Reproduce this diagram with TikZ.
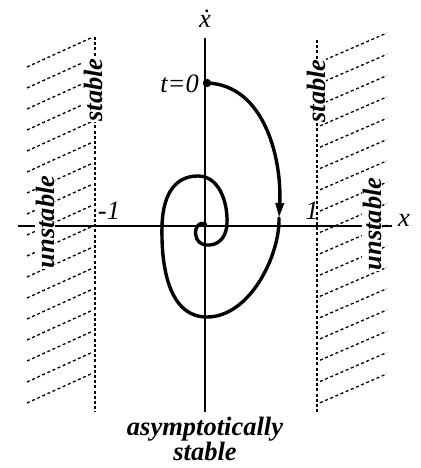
\documentclass[tikz,border=0pt]{standalone}
\usepackage{fontspec}
\setmainfont{Liberation Serif}
\usetikzlibrary{arrows.meta}
\begin{document}
\begin{tikzpicture}[x=1pt,y=-1pt,
  axis/.style={line width=1.6pt},
  bound/.style={line width=1.3pt,dash pattern=on 3pt off 2.2pt},
  hatch/.style={line width=1.3pt,dash pattern=on 3pt off 2.6pt},
  traj/.style={line width=3.4pt},
  lab/.style={font=\fontsize{26.5}{28}\selectfont\itshape,inner sep=1pt},
  blab/.style={font=\fontsize{26.5}{28}\selectfont\bfseries\itshape,inner sep=1pt},
  rlab/.style={blab,rotate=90,fill=white,inner sep=0.5pt}]
\useasboundingbox (0,0) rectangle (420,468);
% hatching
\foreach \i in {0,...,16}{
  \draw[hatch] (27,67+21*\i) -- (93,37+21*\i);
  \draw[hatch] (320,62+21.3*\i) -- (387,33+21.3*\i);
}
% stability boundaries
\coordinate (lt) at (95,37); \coordinate (lb) at (95,412);
\coordinate (rt) at (317,40); \coordinate (rb) at (317,412);
\draw[bound] (lt) -- (lb);
\draw[bound] (rt) -- (rb);
% axes
\coordinate (xl) at (18,226); \coordinate (xr) at (392,226);
\coordinate (yt) at (205,38); \coordinate (yb) at (205,412);
\draw[axis] (xl) -- (xr);
\draw[axis] (yt) -- (yb);
% labels
\node[lab] (xlab) at (404,220) {x};
\node[lab] (ylab) at (205,19) {\.{x}};
\node[lab,anchor=east] (t0) at (200,84) {t=0};
\node[lab] (m1) at (109,211) {-1};
\node[lab] (p1) at (312,211) {1};
\node[rlab] (sl) at (93,90) {stable};
\node[rlab] (ul) at (45,222) {unstable};
\node[rlab] (sr) at (316,91) {stable};
\node[rlab] (ur) at (372,224) {unstable};
\node[blab,align=center] (as) at (205,439) {asymptotically\\[-3pt]stable};
% trajectory
\coordinate (s0) at (207,83);
\coordinate (a1) at (279,218);
\draw[traj,-{Triangle[length=15pt,width=8pt]}] (s0) .. controls (265,85) and (282,160) .. (a1);
\draw[traj,line cap=round] (a1) .. controls (280,255) and (250,317) .. (207,317)
  .. controls (170,317) and (161,270) .. (162,226)
  .. controls (163,190) and (178,176) .. (198,176)
  .. controls (218,176) and (228,200) .. (227,224)
  .. controls (226,240) and (216,246) .. (206,245)
  .. controls (197,244) and (194,235) .. (196,229)
  .. controls (198,223) and (203,222) .. (206,225);
\fill (s0) circle (4.2pt);
\end{tikzpicture}
\end{document}
